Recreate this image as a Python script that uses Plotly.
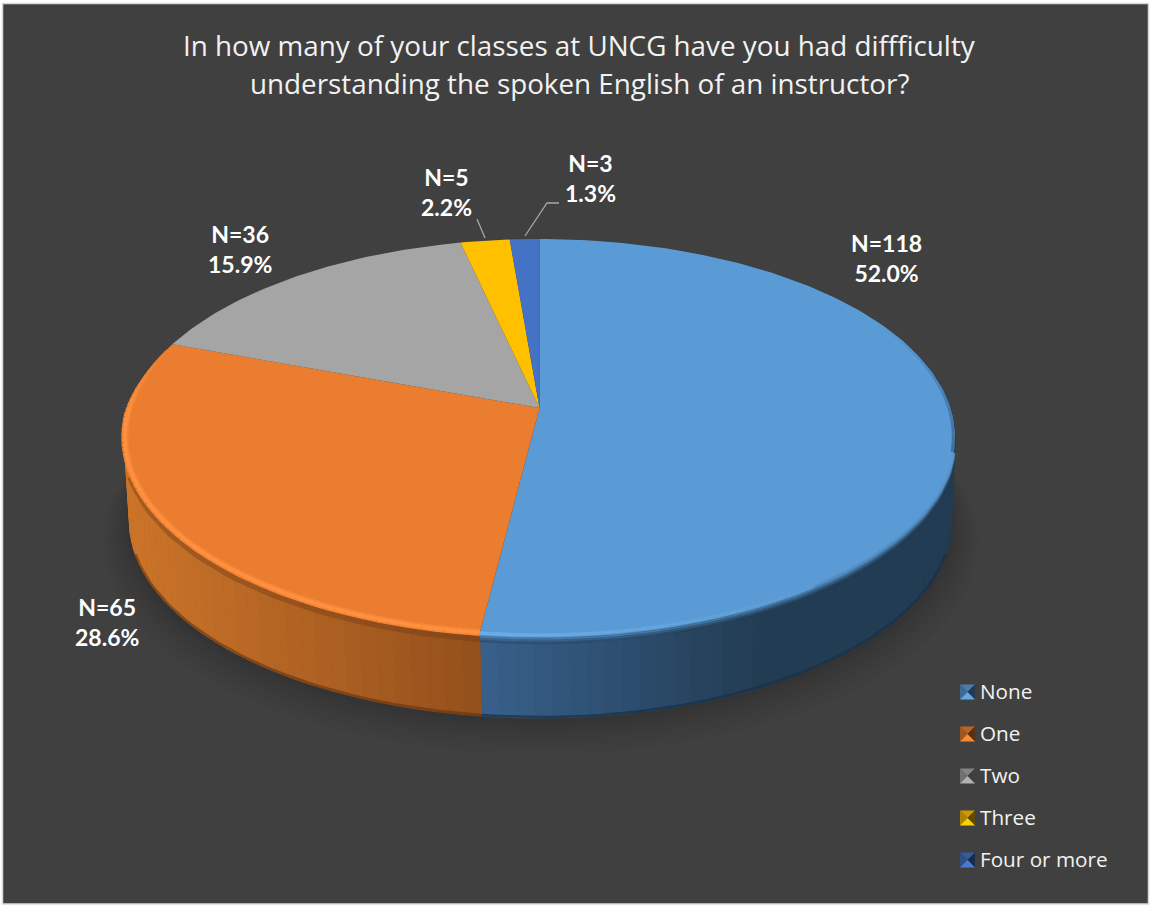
import math
import plotly.graph_objects as go

# ---- data ----
categories = ["None", "One", "Two", "Three", "Four or more"]
counts = [118, 65, 36, 5, 3]
top_colors = ["#5B9BD5", "#EB7D30", "#A5A5A5", "#FFC000", "#4472C4"]
title_lines = ["In how many of your classes at UNCG have you had diffficulty",
               "understanding the spoken English of an instructor?"]

# ---- layout constants (pixels) ----
W, H = 1151, 907
CX, CY, RX, RY = 539.5, 437.0, 415.5, 198.0      # top face ellipse
BCX, BCY, BRX, BRY = 540.5, 522.0, 411.0, 196.0  # bottom rim ellipse
A = 0.146                                        # perspective shift of the pie centre

total = sum(counts)
edges = [0.0]
for c in counts:
    edges.append(edges[-1] + c / total)


def unit(frac, scale=1.0):
    th = 2 * math.pi * frac
    u, v = math.sin(th) * scale, math.cos(th) * scale
    d = 1 + A * v
    return u * math.sqrt(1 - A * A) / d, (v + A * (1 if scale == 1 else scale)) / d


def top(frac, scale=1.0, dy=0.0):
    X, Y = unit(frac, scale)
    return CX + RX * X, CY - RY * Y + dy


def bottom(frac):
    X, Y = unit(frac)
    return BCX + BRX * X, BCY - BRY * Y


def frange(a, b, step):
    n = max(1, int(math.ceil((b - a) / step)))
    return [a + (b - a) * i / n for i in range(n + 1)]


def lerp_hex(c1, c2, t):
    t = max(0.0, min(1.0, t))
    a = [int(c1[i:i + 2], 16) for i in (1, 3, 5)]
    b = [int(c2[i:i + 2], 16) for i in (1, 3, 5)]
    return "#%02x%02x%02x" % tuple(round(a[i] + (b[i] - a[i]) * t) for i in range(3))


def shade(hexc, k):
    a = [int(hexc[i:i + 2], 16) for i in (1, 3, 5)]
    return "#%02x%02x%02x" % tuple(min(255, round(v * k)) for v in a)


fig = go.Figure()
base = dict(hoverinfo="skip", showlegend=False)

# soft shadow under the pie
for grow, dy in [(26, 20), (21, 16), (16, 12), (11, 9), (6, 6), (3, 3)]:
    pts = [(BCX + (BRX + grow) * math.cos(2 * math.pi * t / 180),
            BCY + dy + (BRY + grow * 0.6) * math.sin(2 * math.pi * t / 180)) for t in range(181)]
    fig.add_trace(go.Scatter(x=[p[0] for p in pts], y=[p[1] for p in pts], mode="lines",
                             fill="toself", fillcolor="rgba(0,0,0,0.03)",
                             line=dict(width=0), **base))

# side wall: strips shaded by horizontal position
side_ramps = {0: ("#38608a", "#223c53", 482.0, 760.0),
              1: ("#94501c", "#cc7429", 480.0, 125.0)}
for idx, (c_a, c_b, x_a, x_b) in side_ramps.items():
    lo, hi = max(edges[idx], 0.20), min(edges[idx + 1], 0.80)
    steps = frange(lo, hi, 0.006)
    for f0, f1 in zip(steps[:-1], steps[1:]):
        p = [top(f0), top(f1), bottom(f1), bottom(f0), top(f0)]
        t = ((p[0][0] + p[1][0]) / 2 - x_a) / (x_b - x_a)
        col = lerp_hex(c_a, c_b, t)
        fig.add_trace(go.Scatter(x=[q[0] for q in p], y=[q[1] for q in p], mode="lines",
                                 fill="toself", fillcolor=col,
                                 line=dict(width=0.8, color=col), **base))

# darker lip along the lower edge of the wall
for idx, col in [(0, "rgba(25,50,72,0.75)"), (1, "rgba(90,45,15,0.55)")]:
    fs = frange(max(edges[idx], 0.30), min(edges[idx + 1], 0.70), 0.004)
    fig.add_trace(go.Scatter(x=[bottom(f)[0] for f in fs], y=[bottom(f)[1] - 1 for f in fs],
                             mode="lines", line=dict(width=2.5, color=col), **base))

# dark band just under the bevel
for idx, col, w in [(0, "rgba(30,55,78,0.5)", 6), (1, "rgba(110,58,20,0.40)", 6)]:
    fs = frange(max(edges[idx], 0.30), min(edges[idx + 1], 0.70), 0.004)
    fig.add_trace(go.Scatter(x=[top(f, 1.0, 6)[0] for f in fs], y=[top(f, 1.0, 6)[1] for f in fs],
                             mode="lines", line=dict(width=w, color=col), **base))

# top face: one slice per category, computed from the counts
for i, name in enumerate(categories):
    fs = frange(edges[i], edges[i + 1], 0.003)
    rim = [top(f) for f in fs]
    xs = [CX] + [p[0] for p in rim] + [CX]
    ys = [CY - RY * A] + [p[1] for p in rim] + [CY - RY * A]
    fig.add_trace(go.Scatter(x=xs, y=ys, mode="lines", fill="toself", fillcolor=top_colors[i],
                             line=dict(width=0), name=name, showlegend=False,
                             hovertemplate=f"{name}: {counts[i]}<extra></extra>"))

# bright orange bevel with a soft halo
fs = frange(edges[1], edges[2] - 0.008, 0.004)
for f0, f1 in zip(fs[:-1], fs[1:]):
    fade = min(1.0, (edges[2] - f1) / 0.06)
    scale = 0.998 - 0.004 * (1 - fade)
    p0, p1 = top(f0, scale), top(f1, scale)
    fig.add_trace(go.Scatter(x=[p0[0], p1[0]], y=[p0[1], p1[1]], mode="lines",
                             line=dict(width=1 + 6 * fade, color=lerp_hex("#eb7d30", "#f58636", fade)), **base))
    fig.add_trace(go.Scatter(x=[p0[0], p1[0]], y=[p0[1], p1[1]], mode="lines",
                             line=dict(width=1 + 2.5 * fade, color=lerp_hex("#eb7d30", "#ff9140", fade)),
                             **base))

# blue bevel: blurred edge toward the dark wall, highlight near the orange slice
for dy, alpha, w in [(7, 0.12, 3), (5, 0.28, 3), (3, 0.5, 3), (1, 0.8, 3)]:
    fs = frange(0.285, edges[1], 0.006)
    fig.add_trace(go.Scatter(x=[top(f, 1.0, dy)[0] for f in fs], y=[top(f, 1.0, dy)[1] for f in fs],
                             mode="lines", line=dict(width=w, color=f"rgba(91,155,213,{alpha})"), **base))
fs = frange(0.40, edges[1], 0.004)
for f0, f1 in zip(fs[:-1], fs[1:]):
    t = (f0 - 0.40) / (edges[1] - 0.40)
    p0, p1 = top(f0), top(f1)
    fig.add_trace(go.Scatter(x=[p0[0], p1[0]], y=[p0[1], p1[1]], mode="lines",
                             line=dict(width=3.5, color=lerp_hex("#5b9bd5", "#6cace8", t)), **base))
# slight darkening inside the rim at the far right
fs = frange(0.17, 0.285, 0.003)
for f0, f1 in zip(fs[:-1], fs[1:]):
    alpha = 0.5 * (f0 - 0.17) / 0.115
    p0, p1 = top(f0, 0.996), top(f1, 0.996)
    fig.add_trace(go.Scatter(x=[p0[0], p1[0]], y=[p0[1], p1[1]], mode="lines",
                             line=dict(width=3, color=f"rgba(35,65,95,{alpha:.3f})"), **base))

# ---- layout ----
shapes = [dict(type="rect", xref="x", yref="y", x0=2.5, y0=3.5, x1=1148.5, y1=904,
               fillcolor="#404040", line=dict(color="#d9d9d9", width=1.5), layer="below")]

# leader lines
for path in ["M 525 236 L 547 203 L 559 203", "M 477 219 L 485 238"]:
    shapes.append(dict(type="path", xref="x", yref="y", path=path,
                       line=dict(color="#a6a6a6", width=1.3)))

annotations = []
for line, y in zip(title_lines, [45, 83]):
    annotations.append(dict(x=579, y=y, xref="x", yref="y", text=line, showarrow=False,
                            xanchor="center", yanchor="middle",
                            font=dict(family="Open Sans", size=27.8, color="#f2f2f2")))

label_pos = [(886, 258), (107, 622), (240, 249), (446, 192), (590, 178)]
for n, (lx, ly) in zip(counts, label_pos):
    annotations.append(dict(x=lx, y=ly, xref="x", yref="y", showarrow=False, align="center",
                            text=f"<b>N={n}<br>{100 * n / total:.1f}%</b>",
                            xanchor="center", yanchor="middle",
                            font=dict(family="Lato", size=23, color="white")))

# legend with bevelled keys
leg_y0, leg_gap = 692, 42
for i, name in enumerate(categories):
    yc = leg_y0 + i * leg_gap
    x0, x1, y0, y1 = 960, 975, yc - 7.5, yc + 7.5
    xm, ym = (x0 + x1) / 2, yc
    faces = [(f"M {x0} {y0} L {x1} {y0} L {xm} {ym} Z", 0.80),
             (f"M {x0} {y0} L {xm} {ym} L {x0} {y1} Z", 0.68),
             (f"M {x1} {y0} L {xm} {ym} L {x1} {y1} Z", 0.38),
             (f"M {x0} {y1} L {xm} {ym} L {x1} {y1} Z", 1.08)]
    for path, k in faces:
        shapes.append(dict(type="path", xref="x", yref="y", path=path,
                           fillcolor=shade(top_colors[i], k), line=dict(width=0)))
    annotations.append(dict(x=978, y=yc - 1, xref="x", yref="y", text=name, showarrow=False,
                            xanchor="left", yanchor="middle",
                            font=dict(family="Open Sans", size=20.7, color="#f2f2f2")))

fig.update_layout(width=W, height=H, margin=dict(l=0, r=0, t=0, b=0),
                  paper_bgcolor="white", plot_bgcolor="white", showlegend=False,
                  xaxis=dict(range=[0, W], visible=False, fixedrange=True),
                  yaxis=dict(range=[H, 0], visible=False, fixedrange=True),
                  shapes=shapes, annotations=annotations)

fig.write_html("out.html", config=dict(displayModeBar=False),
               post_script="document.body.style.margin='0';document.body.style.overflow='hidden';")
